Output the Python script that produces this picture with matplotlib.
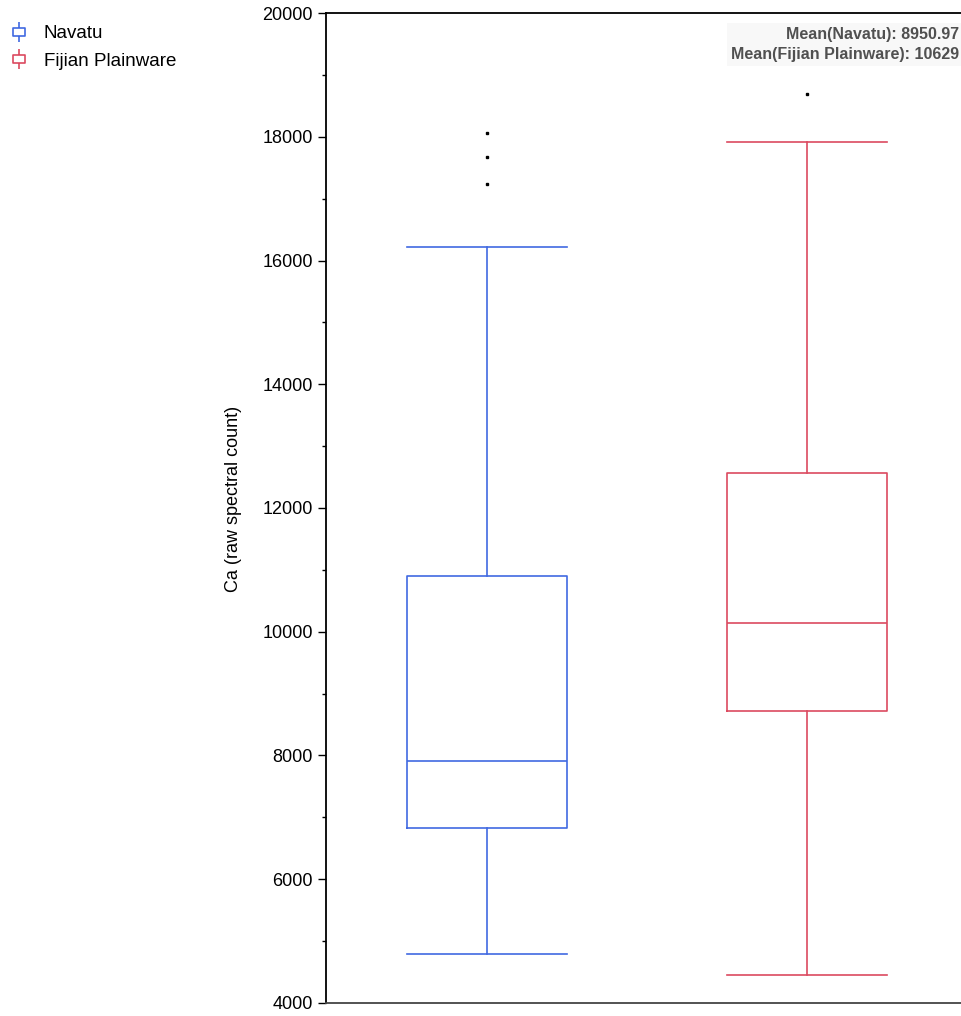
import matplotlib
matplotlib.use('Agg')
import matplotlib.pyplot as plt
from matplotlib.path import Path
from matplotlib.lines import Line2D

plt.rcParams['font.family'] = ['Liberation Sans', 'DejaVu Sans']

# 箱线图统计量
groups = ['Navatu', 'Fijian Plainware']
colors = ['#4169e1', '#dc4a60']
whislo = [4790, 4450]
q1 = [6830, 8720]
med = [7910, 10140]
q3 = [10900, 12570]
whishi = [16220, 17920]
fliers = [[18060, 17670, 17240], [18690]]
means = [8950.97, 10629]

stats = []
for i, g in enumerate(groups):
    stats.append(dict(label=g, whislo=whislo[i], q1=q1[i], med=med[i], q3=q3[i],
                      whishi=whishi[i], fliers=fliers[i]))

fig = plt.figure(figsize=(9.61, 10.16), dpi=100)
ax = fig.add_axes([0.3392, 0.0128, 0.6608, 0.9744])

for i, s in enumerate(stats):
    c = colors[i]
    ax.bxp([s], positions=[i + 1], widths=0.5, showfliers=True,
           boxprops=dict(color=c, linewidth=1.2),
           medianprops=dict(color=c, linewidth=1.2),
           whiskerprops=dict(color=c, linewidth=1.2),
           capprops=dict(color=c, linewidth=1.2),
           capwidths=0.5,
           flierprops=dict(marker='s', markersize=2, markerfacecolor='black',
                           markeredgecolor='black'))

ax.set_xlim(0.497, 2.481)
ax.set_ylim(4000, 20000)
ax.set_xticks([])
ax.set_yticks(range(4000, 20001, 2000))
ax.set_yticks(range(5000, 20000, 2000), minor=True)
ax.tick_params(axis='y', which='major', length=6, width=1, labelsize=13, direction='out')
ax.tick_params(axis='y', which='minor', length=3, width=1, direction='out')
ax.spines['right'].set_visible(False)
for sp in ['left', 'top', 'bottom']:
    ax.spines[sp].set_linewidth(1.3)
ax.spines['bottom'].set_color('#444444')
ax.set_ylabel('Ca (raw spectral count)', fontsize=13)
ax.yaxis.set_label_coords(-0.133, 0.509)

# 均值标注
txt = 'Mean(Navatu): %.2f\nMean(Fijian Plainware): %g' % (means[0], means[1])
ax.text(0.997, 0.986, txt, transform=ax.transAxes, ha='right', va='top',
        fontsize=11.5, fontweight='bold', color='#505050', linespacing=1.45,
        bbox=dict(facecolor='#f8f8f8', edgecolor='none', pad=3))

# 图例标记：小箱体加上下须线
icon = Path([(-0.65, -0.45), (0.65, -0.45), (0.65, 0.45), (-0.65, 0.45), (-0.65, -0.45),
             (0, 0.45), (0, 1.0), (0, -0.45), (0, -1.0)],
            [Path.MOVETO, Path.LINETO, Path.LINETO, Path.LINETO, Path.CLOSEPOLY,
             Path.MOVETO, Path.LINETO, Path.MOVETO, Path.LINETO])
handles = [Line2D([], [], linestyle='none', marker=icon, markersize=14,
                  markerfacecolor='none', markeredgecolor=c, markeredgewidth=1.2)
           for c in colors]
fig.legend(handles, groups, loc='upper left', bbox_to_anchor=(-0.007, 0.992),
           frameon=False, fontsize=13.5, handlelength=0.9, handletextpad=0.9,
           labelspacing=0.55, borderpad=0.4)

fig.savefig('out.png', dpi=100)
